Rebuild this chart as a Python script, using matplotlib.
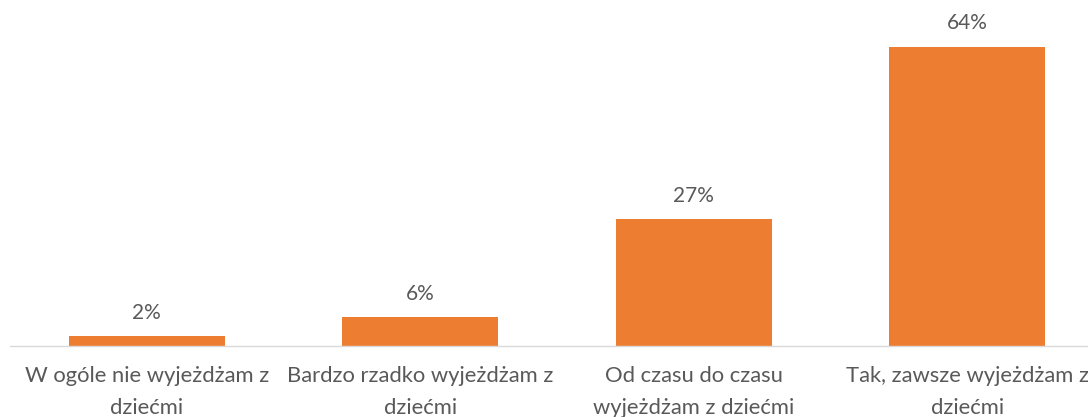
import matplotlib.pyplot as plt

categories = [
    "W ogóle nie wyjeżdżam z\ndziećmi",
    "Bardzo rzadko wyjeżdżam z\ndziećmi",
    "Od czasu do czasu\nwyjeżdżam z dziećmi",
    "Tak, zawsze wyjeżdżam z\ndziećmi",
]
values = [2, 6, 27, 64]

BAR_COLOR = "#ed7d31"
TEXT_COLOR = "#595959"

plt.rcParams['font.family'] = ['Lato', 'DejaVu Sans']

fig = plt.figure(figsize=(10.88, 4.17), dpi=100)
W, H = 1088, 417
# axes extends past the right edge, like the clipped original
ax = fig.add_axes([10 / W, 71.5 / H, 1094 / W, 327 / H])

x = range(len(categories))
bars = ax.bar(x, values, width=0.57, color=BAR_COLOR)

for rect, v in zip(bars, values):
    ax.annotate(f"{v}%", (rect.get_x() + rect.get_width() / 2, rect.get_height()),
                xytext=(0, 17), textcoords="offset points",
                ha="center", va="center", fontsize=15, color=TEXT_COLOR)

ax.set_xlim(-0.5, len(categories) - 0.5)
ax.set_ylim(0, 70)
ax.set_xticks(list(x))
ax.set_xticklabels(categories, fontsize=15.8, color=TEXT_COLOR, linespacing=1.7)
ax.tick_params(axis="x", length=0, pad=15)
ax.set_yticks([])

for side in ["top", "right", "left"]:
    ax.spines[side].set_visible(False)
ax.spines["bottom"].set_color("#d9d9d9")
ax.spines["bottom"].set_linewidth(1)

fig.savefig("out.png", dpi=100)
